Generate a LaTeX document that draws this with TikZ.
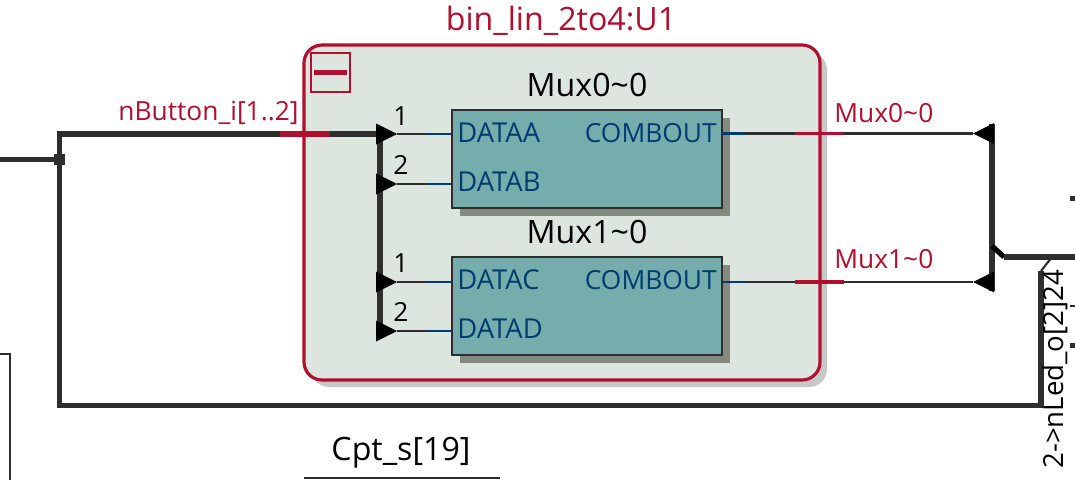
\documentclass[tikz,border=0pt]{standalone}
\usepackage{fontspec}
\setmainfont{Open Sans}
\usetikzlibrary{shapes.geometric,shadows}
\definecolor{wirecol}{HTML}{2E2E2E}
\definecolor{redcol}{HTML}{B10F2E}
\definecolor{pincol}{HTML}{003C71}
\definecolor{groupcol}{HTML}{DDE6DE}
\definecolor{muxcol}{HTML}{75ACAC}
\definecolor{shadecol}{HTML}{858A80}
\tikzset{
  bus/.style={draw=wirecol, line width=2.9pt},
  wire/.style={draw=wirecol, line width=1.2pt},
  pinwire/.style={draw=pincol, line width=1.2pt},
  redbar/.style={draw=redcol, line width=2.2pt},
  txt/.style={inner sep=0pt, font=\fontsize{15}{18}\selectfont},
  bigtxt/.style={inner sep=0pt, font=\fontsize{18.3}{22}\selectfont},
  redtxt/.style={txt, text=redcol},
  pintxt/.style={inner sep=0pt, text=pincol, font=\fontsize{15.6}{18}\selectfont},
  muxbox/.style={draw=wirecol, line width=1.2pt, fill=muxcol, anchor=north west, inner sep=0pt, outer sep=0pt,
    minimum width=270*0.02cm, minimum height=98*0.02cm,
    copy shadow={shadow xshift=8*0.02cm, shadow yshift=-8*0.02cm, fill=shadecol, draw=none, opacity=1}},
  tri/.style={isosceles triangle, isosceles triangle stretches, fill=black, inner sep=0pt, outer sep=0pt,
    minimum height=21*0.02cm, minimum width=21*0.02cm, anchor=apex},
  trileft/.style={tri, shape border rotate=180},
}
\begin{document}
\begin{tikzpicture}[x=0.02cm, y=-0.02cm]
  \useasboundingbox (0,0) rectangle (1075,480);

  % group
  \node[draw=redcol, line width=1.8pt, fill=groupcol, rounded corners=18*0.02cm, anchor=north west, inner sep=0pt, outer sep=0pt,
    minimum width=516*0.02cm, minimum height=335*0.02cm,
    copy shadow={shadow xshift=7*0.02cm, shadow yshift=-7*0.02cm, fill=black!22, draw=none, opacity=1}]
    (grp) at (304,45) {};
  \node[redtxt, bigtxt] (grptxt) at (561,21) {bin\_lin\_2to4:U1};
  \node[draw=redcol, line width=0.8pt, minimum size=39*0.02cm, inner sep=0pt, outer sep=0pt] (minusbox) at (330.5,72.5) {};
  \draw[redcol, line width=2.6pt] (minusbox.west) ++(3,0) coordinate (m1) -- ++(33,0) coordinate (m2);

  % mux boxes
  \node[muxbox] (mux0) at (452,110) {};
  \node[muxbox] (mux1) at (452,257) {};
  \node[bigtxt] (mux0txt) at (587,85) {Mux0\textasciitilde0};
  \node[bigtxt] (mux1txt) at (587,232) {Mux1\textasciitilde0};
  \node[pintxt, anchor=west] (pa) at (457,133) {DATAA};
  \node[pintxt, anchor=west] (pb) at (457,182) {DATAB};
  \node[pintxt, anchor=west] (pc) at (457,280) {DATAC};
  \node[pintxt, anchor=west] (pd) at (457,329) {DATAD};
  \node[pintxt, anchor=east, font=\fontsize{15}{18}\selectfont] (po0) at (717,133) {COMBOUT};
  \node[pintxt, anchor=east, font=\fontsize{15}{18}\selectfont] (po1) at (717,280) {COMBOUT};

  % buses
  \coordinate (left) at (0,159.5);
  \coordinate (jct) at (59.5,159.5);
  \coordinate (top) at (59.5,134);
  \coordinate (bot) at (59.5,405.5);
  \coordinate (ret) at (1041,405.5);
  \coordinate (retup) at (1041,271);
  \coordinate (tap) at (1052,257);
  \coordinate (stub) at (1004,257);
  \coordinate (stubup) at (992,246);
  \coordinate (right) at (1075,257);
  \coordinate (bt) at (380,134);
  \coordinate (bb) at (380,331);
  \draw[bus] (left) -- (jct);
  \draw[bus, line join=miter] (bt) -- (top) -- (bot) -- (ret) -- (retup);
  \draw[bus] (bt) -- (bb);
  \draw[bus] (992,124) -- (992,291);
  \draw[bus, draw=black] (stubup) -- (stub);
  \draw[bus] (stub) -- (right);
  \draw[wire] (tap) -- (retup);
  \node[fill=wirecol, minimum size=11*0.02cm, inner sep=0pt] (jctsq) at (jct) {};

  % input triangles
  \node[tri] (ta) at (397,134) {};
  \node[tri] (tb) at (397,184) {};
  \node[tri] (tc) at (397,282) {};
  \node[tri] (td) at (397,331) {};
  \node[txt] (n1a) at (401,116) {1};
  \node[txt] (n2a) at (401,165) {2};
  \node[txt] (n1b) at (401,263) {1};
  \node[txt] (n2b) at (401,312) {2};

  \foreach \t/\x in {ta/a,tb/b,tc/c,td/d}{
    \coordinate (w\x) at ([xshift=30*0.02cm]\t.apex);
    \draw[wire] (\t.apex) -- (w\x);
    \draw[pinwire] (w\x) -- ++(25,0);
  }

  % output triangles
  \node[trileft] (tr0) at (973,133.5) {};
  \node[trileft] (tr1) at (973,282) {};
  \coordinate (o0) at (745,133.5);
  \coordinate (o1) at (745,282);
  \draw[pinwire] (mux0.east |- o0) -- (o0);
  \draw[pinwire] (mux1.east |- o1) -- (o1);
  \draw[wire] (o0) -- (tr0.apex);
  \draw[wire] (o1) -- (tr1.apex);
  \node[redtxt, anchor=west] (o0txt) at (834,113) {Mux0\textasciitilde0};
  \node[redtxt, anchor=west] (o1txt) at (834,259) {Mux1\textasciitilde0};
  \draw[redbar] (795,133.5) coordinate (r0) -- (844,133.5) coordinate (r1);
  \draw[redbar] (795,282) coordinate (r2) -- (844,282) coordinate (r3);

  \draw[redcol, line width=3.2pt] (280,134) coordinate (r4) -- (330,134) coordinate (r5);
  \node[redtxt] (btn) at (208.5,113) {nButton\_i[1..2]};

  % right edge
  \node[inner sep=0pt, font=\fontsize{15.7}{19}\selectfont, rotate=90, anchor=west] (led) at (1055,469) {2->nLed\_o[2]24};
  \node[fill=wirecol, minimum size=5*0.02cm, inner sep=0pt] (sq0) at (1072.5,198) {};
  \node[fill=wirecol, minimum size=5*0.02cm, inner sep=0pt] (sq1) at (1072.5,345) {};
  \draw[wirecol, line width=0.8pt] (1070,306) coordinate (d0) -- (1075,306) coordinate (d1);

  % neighbours
  \coordinate (f0) at (0,354);
  \coordinate (f1) at (10,354);
  \coordinate (f2) at (10,480);
  \draw[wire] (f0) -- (f1) -- (f2);
  \node[bigtxt] (cpt) at (401,453) {Cpt\_s[19]};
  \coordinate (c0) at (304,478);
  \coordinate (c1) at (500,478);
  \draw[wire] (c0) -- (c1);
\end{tikzpicture}
\end{document}
